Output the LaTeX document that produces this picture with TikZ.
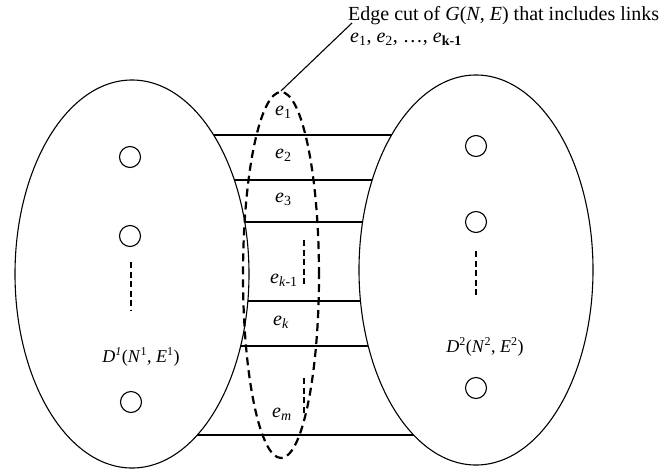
\documentclass[tikz,border=0pt]{standalone}
\usepackage{fontspec}
\setmainfont{Liberation Serif}
\usetikzlibrary{shapes.geometric}
\tikzset{
  graphbox/.style={draw, ellipse, line width=1.1pt, inner sep=0pt},
  cutbox/.style={draw, ellipse, line width=2.2pt, dash pattern=on 8pt off 5pt, inner sep=0pt},
  vertex/.style={draw, circle, line width=1.1pt, minimum size=21pt, inner sep=0pt},
  link/.style={line width=1.1pt},
  gap/.style={line width=2pt, dash pattern=on 6pt off 3.5pt},
  lbl/.style={anchor=base west, inner sep=0pt, font=\fontsize{20}{22}\selectfont},
  glabel/.style={anchor=base, inner sep=0pt, font=\fontsize{18}{20}\selectfont}
}
\newcommand{\lx}[1]{{132+117*sqrt(1-((#1-274)/194)^2)}}
\newcommand{\rx}[1]{{476-117*sqrt(1-((#1-270)/195)^2)}}
\newcommand{\sups}[1]{\textsuperscript{\fontsize{12}{12}\selectfont #1}}
\begin{document}
\begin{tikzpicture}[x=1pt, y=-1pt]
\useasboundingbox (0,0) rectangle (671,471);
% the two sub-graphs
\node[graphbox, minimum width=234pt, minimum height=388pt] (L) at (132,274) {};
\node[graphbox, minimum width=234pt, minimum height=390pt] (R) at (476,270) {};
% links of the cut
\foreach \yy/\nm in {135/a,180/b,222/c,301/d,346/e,435/f}{
  \coordinate (l\nm) at (\lx{\yy},\yy);
  \coordinate (r\nm) at (\rx{\yy},\yy);
  \draw[link] (l\nm) -- (r\nm);
}
% the edge cut
\node[cutbox, minimum width=76pt, minimum height=366pt] (cut) at (281,275) {};
\coordinate (ptr) at (352,23);
\draw[link] (cut.north) -- (ptr);
\node[lbl] (t1) at (348,20) {Edge cut of \textit{G}(\textit{N}, \textit{E}) that includes links};
\node[lbl] (t2) at (350,42) {\textit{e}\textsubscript{1}, \textit{e}\textsubscript{2}, \dots, \textit{e}\textsubscript{\textbf{k-1}}};
% edge labels
\node[lbl] (e1) at (275,115) {\textit{e}\textsubscript{1}};
\node[lbl] (e2) at (275,158) {\textit{e}\textsubscript{2}};
\node[lbl] (e3) at (275,202) {\textit{e}\textsubscript{3}};
\node[lbl] (ek1) at (270,283) {\textit{e}\textsubscript{\textit{k}-1}};
\node[lbl] (ek) at (273,325) {\textit{e}\textsubscript{\textit{k}}};
\node[lbl] (em) at (272,417) {\textit{e}\textsubscript{\textit{m}}};
\coordinate (g1a) at (304,240); \coordinate (g1b) at (304,286);
\coordinate (g2a) at (304,378); \coordinate (g2b) at (304,413);
\draw[gap] (g1a) -- (g1b);
\draw[gap] (g2a) -- (g2b);
% vertices left
\node[vertex] (v1) at (130,157) {};
\node[vertex] (v2) at (130,236) {};
\node[vertex] (v3) at (131,402) {};
\coordinate (d1a) at (131,262); \coordinate (d1b) at (131,310);
\draw[gap] (d1a) -- (d1b);
\node[glabel] (D1) at (141,362) {\textit{D}\sups{\textit{1}}(\textit{N}\sups{1}, \textit{E}\sups{1})};
% vertices right
\node[vertex] (w1) at (476,146) {};
\node[vertex] (w2) at (476,222) {};
\node[vertex] (w3) at (476,388) {};
\coordinate (d2a) at (476,251); \coordinate (d2b) at (476,297);
\draw[gap] (d2a) -- (d2b);
\node[glabel] (D2) at (485,352) {\textit{D}\sups{2}(\textit{N}\sups{2}, \textit{E}\sups{2})};
\end{tikzpicture}
\end{document}
